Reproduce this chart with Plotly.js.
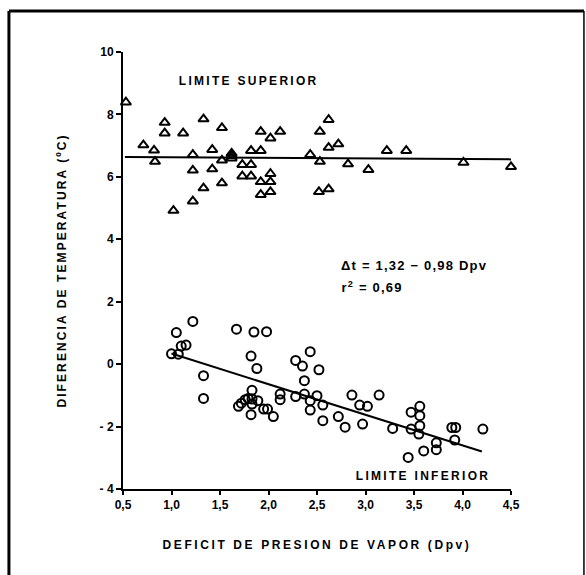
<!DOCTYPE html>
<html>
<head>
<meta charset="utf-8">
<script src="https://cdn.plot.ly/plotly-3.0.1.min.js"></script>
<style>
html,body{margin:0;padding:0;background:#fff;}
#chart{width:586px;height:575px;}
.xtitle{letter-spacing:2.6px;}
.ytitle{letter-spacing:2.1px;}
g.annotation[data-index="0"] text, g.annotation[data-index="1"] text{letter-spacing:2.3px;}
g.annotation[data-index="2"] text, g.annotation[data-index="3"] text{letter-spacing:1.2px;}
</style>
</head>
<body>
<div id="chart"></div>
<script>
// Upper limit (triangles)
const upperX = [0.53,0.71,0.82,0.83,0.93,0.93,1.02,1.12,1.22,1.22,1.22,1.33,1.33,1.42,1.42,1.52,1.52,1.52,1.62,1.62,1.62,1.73,1.73,1.82,1.82,1.82,1.92,1.92,1.92,1.92,2.02,2.02,2.02,2.02,2.12,2.43,2.53,2.53,2.52,2.62,2.62,2.62,2.72,2.82,3.03,3.22,3.42,4.01,4.50];
const upperY = [8.39,7.02,6.85,6.49,7.74,7.40,4.92,7.40,6.71,6.21,5.22,7.85,5.64,6.87,6.25,7.57,6.53,5.80,6.75,6.68,6.60,6.39,6.02,6.84,6.39,6.02,7.45,6.84,5.84,5.43,7.24,6.10,5.84,5.52,7.45,6.71,7.45,6.49,5.52,7.83,6.94,5.61,7.05,6.41,6.23,6.84,6.84,6.46,6.32];
// Lower limit (circles)
const lowerX = [1.00,1.05,1.07,1.10,1.15,1.22,1.33,1.33,1.67,1.69,1.72,1.76,1.79,1.82,1.82,1.83,1.83,1.83,1.85,1.88,1.89,1.95,1.98,1.99,2.05,2.12,2.12,2.28,2.28,2.35,2.37,2.37,2.43,2.43,2.43,2.50,2.52,2.56,2.56,2.72,2.79,2.86,2.94,2.97,3.02,3.14,3.28,3.44,3.47,3.47,3.55,3.56,3.56,3.56,3.60,3.73,3.73,3.89,3.93,3.92,4.21];
const lowerY = [0.33,1.01,0.32,0.58,0.61,1.37,-0.37,-1.10,1.12,-1.35,-1.25,-1.14,-1.10,-1.62,0.26,-0.84,-1.12,-1.28,1.03,-0.14,-1.17,-1.44,1.04,-1.44,-1.68,-0.96,-1.14,0.12,-1.04,-0.06,-0.53,-0.96,0.40,-1.17,-1.47,-1.01,-0.18,-1.31,-1.81,-1.68,-2.02,-0.99,-1.31,-1.92,-1.35,-0.99,-2.06,-2.99,-1.54,-2.08,-2.24,-1.97,-1.65,-1.35,-2.78,-2.52,-2.74,-2.03,-2.03,-2.43,-2.08];
// Fitted lines
const upperLineX = [0.52, 4.50];
const upperLineY = [6.64, 6.56];
const lowerLineX = [1.00, 4.20];
const lowerLineY = [0.34, -2.80];
// Ticks
const xTickVals = [0.5,1.0,1.5,2.0,2.5,3.0,3.5,4.0,4.5];
const xTickText = ['0,5','1,0','1,5','2,0','2,5','3,0','3,5','4,0','4,5'];
const yTickVals = [-4,-2,0,2,4,6,8,10];
const yTickText = ['- 4','- 2','0','2','4','6','8','10'];

const FONT = 'Liberation Sans, Arial, sans-serif';
const traces = [
  {x: upperX, y: upperY, type:'scatter', mode:'markers', cliponaxis:false,
   marker:{symbol:'triangle-up-open', size:9, color:'#000', line:{width:2, color:'#000'}}},
  {x: lowerX, y: lowerY, type:'scatter', mode:'markers', cliponaxis:false,
   marker:{symbol:'circle-open', size:9, color:'#000', line:{width:2, color:'#000'}}},
  {x: upperLineX, y: upperLineY, type:'scatter', mode:'lines', cliponaxis:false, line:{color:'#000', width:2}},
  {x: lowerLineX, y: lowerLineY, type:'scatter', mode:'lines', cliponaxis:false, line:{color:'#000', width:2}}
];
const layout = {
  width:586, height:575,
  margin:{l:123, r:75, t:52, b:86},
  paper_bgcolor:'#fff', plot_bgcolor:'#fff',
  showlegend:false,
  font:{family:FONT, color:'#000', size:12, weight:'bold'},
  xaxis:{range:[0.5,4.5], showgrid:false, zeroline:false, showline:true, linecolor:'#000', linewidth:2,
    ticks:'outside', ticklen:4, tickwidth:2, tickcolor:'#000',
    tickvals:xTickVals, ticktext:xTickText, tickfont:{family:FONT, size:12, weight:'bold'},
    title:{text:'DEFICIT DE PRESION DE VAPOR (Dpv)', font:{family:FONT, size:12, weight:'bold'}, standoff:29}},
  yaxis:{range:[-4,10], showgrid:false, zeroline:false, showline:true, linecolor:'#000', linewidth:2,
    ticks:'outside', ticklen:5, tickwidth:2, tickcolor:'#000',
    tickvals:yTickVals, ticktext:yTickText, tickfont:{family:FONT, size:12, weight:'bold'},
    title:{text:'DIFERENCIA DE TEMPERATURA (ºC)', font:{family:FONT, size:12, weight:'bold'}, standoff:30}},
  annotations:[
    {x:1.80, y:9.07, xref:'x', yref:'y', text:'LIMITE SUPERIOR', showarrow:false, font:{family:FONT, size:12, weight:'bold'}},
    {x:3.59, y:-3.58, xref:'x', yref:'y', text:'LIMITE INFERIOR', showarrow:false, font:{family:FONT, size:12, weight:'bold'}},
    {x:2.74, y:3.16, xref:'x', yref:'y', xanchor:'left', xshift:11, text:'Δt = 1,32 − 0,98 Dpv', showarrow:false, font:{family:FONT, size:13, weight:'bold'}},
    {x:2.74, y:2.46, xref:'x', yref:'y', xanchor:'left', xshift:5, text:'r<sup>2</sup> = 0,69', showarrow:false, font:{family:FONT, size:13, weight:'bold'}}
  ],
  shapes:[
    {type:'line', xref:'paper', yref:'paper', x0:-0.294, x1:1.188, y0:1.094, y1:1.094, line:{color:'#000', width:3}},
    {type:'line', xref:'paper', yref:'paper', x0:-0.294, x1:-0.294, y0:1.094, y1:-0.25, line:{color:'#000', width:3}},
    {type:'line', xref:'paper', yref:'paper', x0:1.188, x1:1.188, y0:1.094, y1:-0.25, line:{color:'#000', width:1.5}}
  ]
};
Plotly.newPlot('chart', traces, layout, {displayModeBar:false, staticPlot:true});
</script>
</body>
</html>
